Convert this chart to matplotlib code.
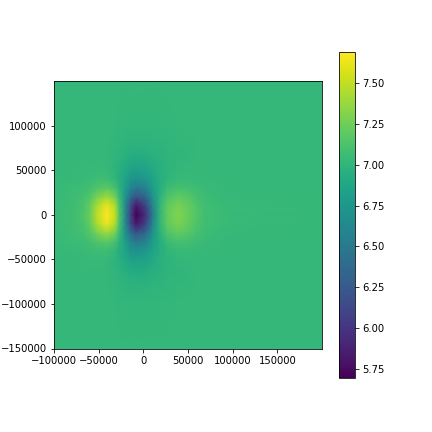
import numpy as np
import matplotlib
matplotlib.use("Agg")
import matplotlib.pyplot as plt

# sample positions
x_nodes = [-100000, -80000, -68000, -60000, -52000, -41000, -32000, -27000, -20000, -14000, -8000, 2000,
           10000, 18000, 27000, 38000, 48000, 60000, 70000, 85000, 100000, 130000, 200000]
y_nodes = [0, 10000, 20000, 30000, 40000, 50000, 65000, 80000, 100000, 150000]

# values for y >= 0, the picture is mirrored about y = 0
z_top = [
    [7.04, 7.07, 7.12, 7.23, 7.48, 7.69, 7.52, 7.15, 6.62, 6.08, 5.69, 5.95, 6.50, 6.98, 7.22, 7.30, 7.25, 7.14, 7.08, 7.05, 7.04, 7.03, 7.02],
    [7.04, 7.07, 7.11, 7.21, 7.43, 7.63, 7.46, 7.12, 6.62, 6.14, 5.82, 6.06, 6.56, 6.98, 7.20, 7.28, 7.23, 7.13, 7.08, 7.05, 7.04, 7.03, 7.02],
    [7.03, 7.06, 7.09, 7.15, 7.28, 7.40, 7.28, 7.05, 6.70, 6.38, 6.20, 6.34, 6.68, 6.96, 7.13, 7.20, 7.17, 7.10, 7.06, 7.04, 7.03, 7.02, 7.02],
    [7.03, 7.05, 7.06, 7.09, 7.14, 7.18, 7.11, 6.98, 6.80, 6.60, 6.50, 6.58, 6.78, 6.93, 7.05, 7.10, 7.09, 7.06, 7.04, 7.03, 7.02, 7.02, 7.02],
    [7.02, 7.03, 7.04, 7.05, 7.07, 7.07, 7.02, 6.94, 6.85, 6.74, 6.70, 6.74, 6.84, 6.93, 7.00, 7.04, 7.04, 7.03, 7.03, 7.02, 7.02, 7.02, 7.02],
    [7.02, 7.02, 7.03, 7.03, 7.03, 7.03, 6.99, 6.95, 6.90, 6.84, 6.82, 6.84, 6.90, 6.95, 6.99, 7.01, 7.02, 7.02, 7.02, 7.02, 7.02, 7.02, 7.02],
    [7.02, 7.02, 7.02, 7.02, 7.02, 7.02, 7.00, 6.98, 6.96, 6.93, 6.92, 6.93, 6.95, 6.97, 6.99, 7.00, 7.01, 7.02, 7.02, 7.02, 7.02, 7.02, 7.02],
    [7.02, 7.02, 7.02, 7.02, 7.02, 7.02, 7.01, 7.00, 6.99, 6.98, 6.98, 6.98, 6.99, 6.99, 7.00, 7.01, 7.01, 7.02, 7.02, 7.02, 7.02, 7.02, 7.02],
    [7.02, 7.02, 7.02, 7.02, 7.02, 7.02, 7.02, 7.01, 7.01, 7.01, 7.01, 7.01, 7.01, 7.01, 7.01, 7.02, 7.02, 7.02, 7.02, 7.02, 7.02, 7.02, 7.02],
    [7.02, 7.02, 7.02, 7.02, 7.02, 7.02, 7.02, 7.02, 7.02, 7.02, 7.02, 7.02, 7.02, 7.02, 7.02, 7.02, 7.02, 7.02, 7.02, 7.02, 7.02, 7.02, 7.02],
]

x_ticks = [-100000, -50000, 0, 50000, 100000, 150000]
y_ticks = [-150000, -100000, -50000, 0, 50000, 100000]
cbar_ticks = [5.75, 6.00, 6.25, 6.50, 6.75, 7.00, 7.25, 7.50]

z_top = np.array(z_top)
z = np.vstack([z_top[:0:-1], z_top])
y = np.array([-v for v in y_nodes[:0:-1]] + y_nodes)

fig = plt.figure(figsize=(6, 6), dpi=72)
ax = fig.add_axes([54 / 432, 1 - 348.5 / 432, 268 / 432, 267.5 / 432])
mesh = ax.pcolormesh(x_nodes, y, z, shading="gouraud", cmap="viridis", vmin=5.69, vmax=7.69)
ax.set_xlim(-100000, 200000)
ax.set_ylim(-150000, 150000)
ax.set_xticks(x_ticks)
ax.set_yticks(y_ticks)

cax = fig.add_axes([339 / 432, 1 - 378.3 / 432, 16 / 432, 326 / 432])
cbar = fig.colorbar(mesh, cax=cax)
cbar.set_ticks(cbar_ticks)
cbar.ax.set_yticklabels(["%.2f" % t for t in cbar_ticks])

fig.savefig("out.png", dpi=72)
